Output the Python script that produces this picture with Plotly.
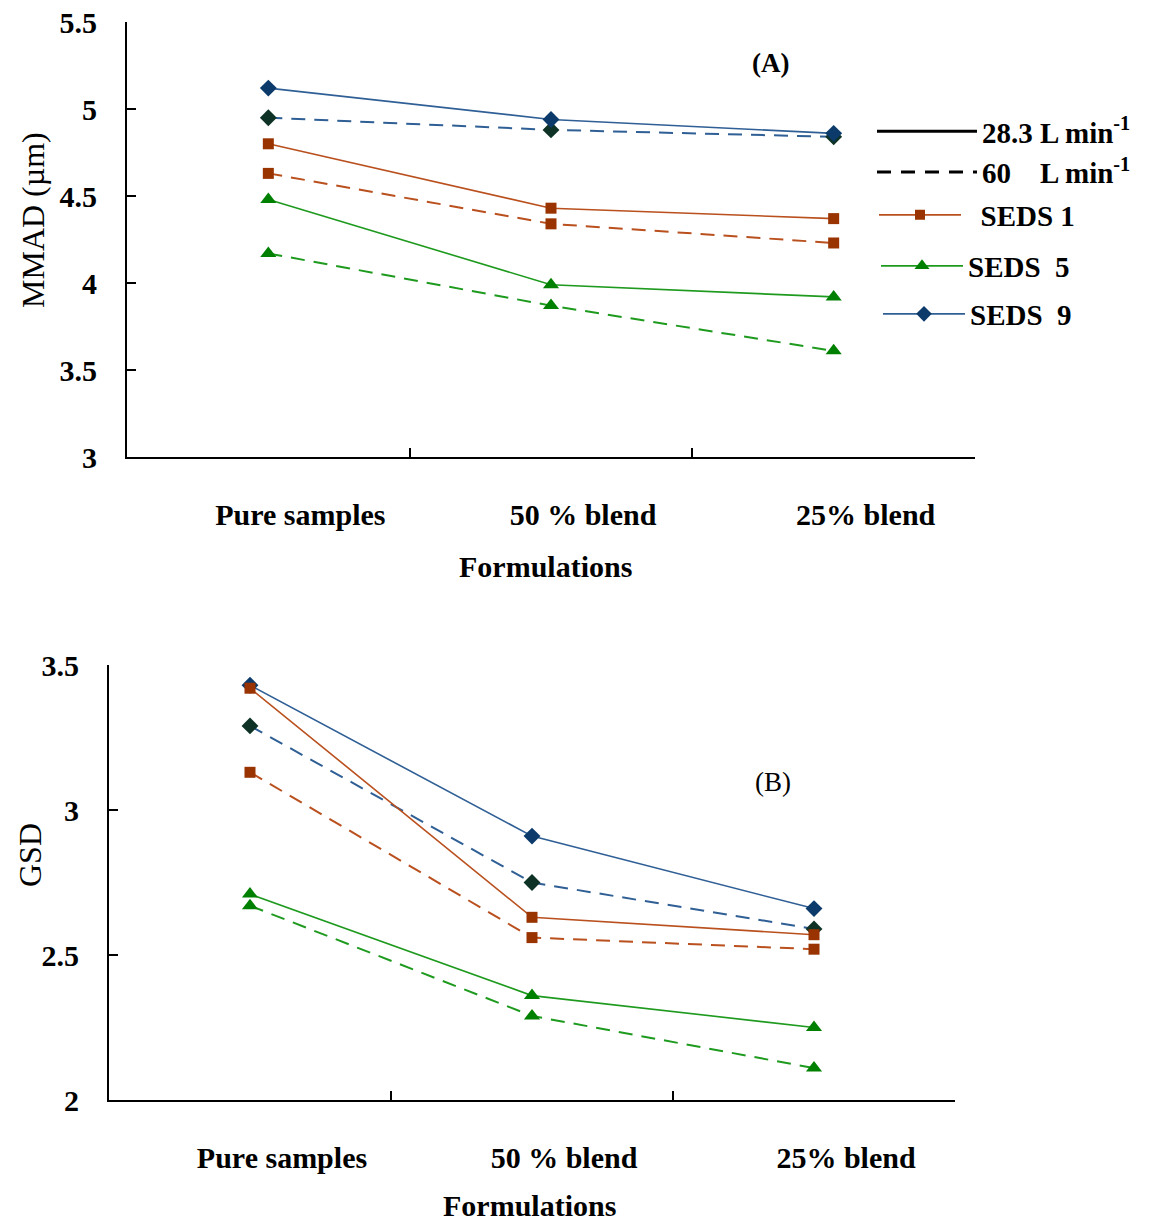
import plotly.graph_objects as go

# Formulation categories on the x axis
formulations = ["Pure samples", "50 % blend", "25% blend"]

# MMAD (µm) at 28.3 and 60 L/min
mmad_seds1_28 = [4.80, 4.43, 4.37]
mmad_seds1_60 = [4.63, 4.34, 4.23]
mmad_seds5_28 = [4.48, 3.99, 3.92]
mmad_seds5_60 = [4.17, 3.87, 3.61]
mmad_seds9_28 = [5.12, 4.94, 4.86]
mmad_seds9_60 = [4.95, 4.88, 4.84]

# GSD at 28.3 and 60 L/min
gsd_seds1_28 = [3.42, 2.63, 2.57]
gsd_seds1_60 = [3.13, 2.56, 2.52]
gsd_seds5_28 = [2.71, 2.36, 2.25]
gsd_seds5_60 = [2.67, 2.29, 2.11]
gsd_seds9_28 = [3.43, 2.91, 2.66]
gsd_seds9_60 = [3.29, 2.75, 2.59]

mmad_ticks = [3, 3.5, 4, 4.5, 5, 5.5]
gsd_ticks = [2, 2.5, 3, 3.5]

FONT = "Liberation Serif"
W, H = 1165, 1222

# series styling: (line colour, marker colour, marker symbol, marker size)
styles = {
    "SEDS 1": ("#B9501E", "#993300", "square", 11),
    "SEDS 5": ("#1E9A1E", "#008000", "triangle-up", 14),
    "SEDS 9": ("#2F5F95", "#0B3A6B", "diamond", 13),
}
dark9 = "#0E3326"

fig = go.Figure()


def add_series(x_ax, y_ax, values, name, dashed):
    lc, mc, sym, size = styles[name]
    if dashed and name == "SEDS 9":
        mc = dark9
    fig.add_trace(go.Scatter(
        x=formulations, y=values, xaxis=x_ax, yaxis=y_ax,
        mode="lines+markers", showlegend=False,
        line=dict(color=lc, width=2 if dashed else 1.6,
                  dash="14px,9px" if dashed else "solid"),
        marker=dict(color=mc, symbol=sym, size=size),
    ))


# Panel A: MMAD
for name, v28, v60 in [("SEDS 9", mmad_seds9_28, mmad_seds9_60),
                       ("SEDS 1", mmad_seds1_28, mmad_seds1_60),
                       ("SEDS 5", mmad_seds5_28, mmad_seds5_60)]:
    add_series("x", "y", v60, name, True)
    add_series("x", "y", v28, name, False)

# Panel B: GSD
for name, v28, v60 in [("SEDS 9", gsd_seds9_28, gsd_seds9_60),
                       ("SEDS 1", gsd_seds1_28, gsd_seds1_60),
                       ("SEDS 5", gsd_seds5_28, gsd_seds5_60)]:
    add_series("x2", "y2", v60, name, True)
    add_series("x2", "y2", v28, name, False)

NB = "\u00a0"
# Legend entries: flow rates (line style) in the first legend
fig.add_trace(go.Scatter(x=[None], y=[None], mode="lines", name="28.3 L min<sup>-1</sup>",
                         line=dict(color="black", width=3), legend="legend"))
fig.add_trace(go.Scatter(x=[None], y=[None], mode="lines",
                         name=f"60{NB*3} L min<sup>-1</sup>",
                         line=dict(color="black", width=3, dash="14px,10px"), legend="legend"))
# one small legend per formulation (colour/marker)
seds_labels = {"SEDS 1": f"{NB*2}SEDS 1", "SEDS 5": f"SEDS{NB*2}5", "SEDS 9": f"SEDS{NB*2}9"}
seds_legends = {"SEDS 1": "legend2", "SEDS 5": "legend3", "SEDS 9": "legend4"}
for name in ["SEDS 1", "SEDS 5", "SEDS 9"]:
    lc, mc, sym, size = styles[name]
    fig.add_trace(go.Scatter(x=[None], y=[None], mode="lines+markers", name=seds_labels[name],
                             line=dict(color=lc, width=1.6),
                             marker=dict(color=mc, symbol=sym, size=size - 1),
                             legend=seds_legends[name]))

tick_font = dict(family=FONT, size=30, color="black", weight="bold")


def px_x(a, b):
    return [a / W, b / W]


def px_y(top, bottom):
    return [1 - bottom / H, 1 - top / H]


xcommon = dict(
    type="category", range=[-0.5, 2.5], showline=True, linecolor="black", linewidth=2,
    ticks="inside", tickson="boundaries", ticklen=9, tickcolor="black", tickwidth=1.5,
    tickfont=tick_font, ticklabelstandoff=30, ticklabelshift=32,
    showgrid=False, zeroline=False, automargin=False,
)
ycommon = dict(
    showline=True, linecolor="black", linewidth=2, ticks="inside", ticklen=9,
    tickcolor="black", tickwidth=1.5, tickfont=tick_font, ticklabelstandoff=22,
    showgrid=False, zeroline=False, automargin=False,
)

legend_font = dict(family=FONT, size=29, color="black", weight="bold")


def small_legend(x_px, y_px, width):
    return dict(x=x_px / W, y=1 - y_px / H, xanchor="left", yanchor="middle",
                font=legend_font, bgcolor="rgba(0,0,0,0)", itemwidth=width)


fig.update_layout(
    width=W, height=H, margin=dict(l=0, r=0, t=0, b=0, autoexpand=False),
    paper_bgcolor="white", plot_bgcolor="white",
    xaxis=dict(domain=px_x(127, 975), anchor="y", **xcommon),
    yaxis=dict(domain=px_y(22, 457), anchor="x", range=[3, 5.5],
               tickvals=mmad_ticks, **ycommon),
    xaxis2=dict(domain=px_x(109, 955), anchor="y2", **xcommon),
    yaxis2=dict(domain=px_y(665, 1100), anchor="x2", range=[2, 3.5],
                tickvals=gsd_ticks, **ycommon),
    showlegend=True,
    legend=small_legend(872, 152, 100),
    legend2=small_legend(874, 215, 82),
    legend3=small_legend(876, 266, 82),
    legend4=small_legend(878, 314, 82),
)

ann_regular = dict(family=FONT, size=32, color="black")
ann_bold = dict(family=FONT, size=30, color="black", weight="bold")
annotations = [
    dict(text="MMAD (µm)", x=33 / W, y=1 - 220 / H, textangle=-90, font=ann_regular),
    dict(text="GSD", x=30 / W, y=1 - 855 / H, textangle=-90, font=ann_regular),
    dict(text="Formulations", x=545 / W, y=1 - 566 / H, font=ann_bold),
    dict(text="Formulations", x=529 / W, y=1 - 1205 / H, font=ann_bold),
    dict(text="(A)", x=770 / W, y=1 - 63 / H, font=dict(family=FONT, size=27, color="black", weight="bold")),
    dict(text="(B)", x=773 / W, y=1 - 782 / H, font=dict(family=FONT, size=27, color="black")),
]
for a in annotations:
    fig.add_annotation(xref="paper", yref="paper", showarrow=False,
                       xanchor="center", yanchor="middle", **a)

fig.write_html("out.html")
